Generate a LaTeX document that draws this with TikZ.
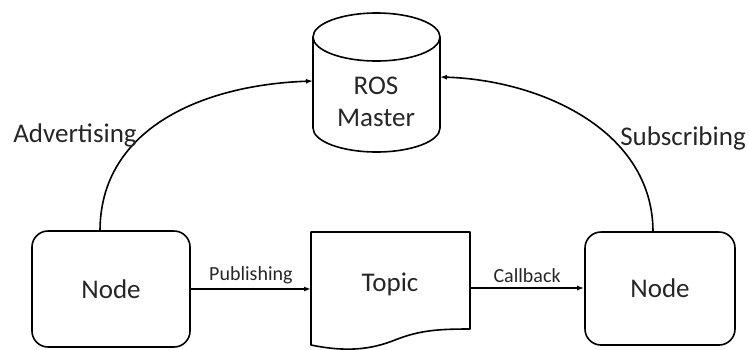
\documentclass[tikz,border=0pt]{standalone}
\usepackage{fontspec}
\setmainfont{Carlito}
\usetikzlibrary{arrows.meta}
\definecolor{txt}{gray}{0.15}
\tikzset{
  nodebox/.style={draw, line width=1.6pt, rounded corners=16pt, text=txt, font=\fontsize{27}{29}\selectfont},
  bigtext/.style={text=txt, font=\fontsize{27}{32}\selectfont, align=center},
  smalltext/.style={text=txt, font=\fontsize{20}{22}\selectfont},
  conn/.style={line width=1.6pt, -{Latex[length=7pt,width=5pt]}},
  shapeline/.style={line width=1.6pt, line join=round}
}
\begin{document}
\begin{tikzpicture}[x=1pt,y=-1pt]
\useasboundingbox (0,0) rectangle (749,349);
% nodes
\node[nodebox, minimum width=158pt, minimum height=116pt] (n1) at (111,289) {Node};
\node[nodebox, minimum width=150pt, minimum height=113pt] (n2) at (660,288.5) {Node};
% ROS master cylinder
\draw[shapeline] (313,37) -- (313,128) arc[start angle=180, end angle=0, x radius=63.5, y radius=24] -- (440,37);
\draw[shapeline] (376.5,37) ellipse[x radius=63.5, y radius=24];
\node[bigtext] (ros) at (376,102) {ROS\\Master};
% Topic document
\draw[shapeline] (311,345) -- (311,232) -- (470,232) -- (470,329)
  .. controls (440,329) and (420,330) .. (395,340)
  .. controls (370,350) and (345,352) .. (311,345) -- cycle;
\node[bigtext] (topic) at (390,284) {Topic};
% anchor coordinates
\coordinate (tin) at (311,289);
\coordinate (tout) at (470,288);
\coordinate (rosL) at (313,81);
\coordinate (rosR) at (440,77);
\coordinate (n1top) at (100,231);
\coordinate (n2top) at (653,232);
% connectors
\draw[conn] (n1.east |- tin) -- node[smalltext, above=1pt] (pub) {Publishing} (tin);
\draw[conn] (tout) -- node[smalltext, above=1pt] (cb) {Callback} (n2.west |- tout);
\draw[conn] (n1top) .. controls (100,130) and (200,85) .. (rosL);
\draw[conn] (n2top) .. controls (653,130) and (540,80) .. (rosR);
% labels
\node[bigtext] (adv) at (75,135) {Advertising};
\node[bigtext] (sub) at (683,138) {Subscribing};
\end{tikzpicture}
\end{document}
